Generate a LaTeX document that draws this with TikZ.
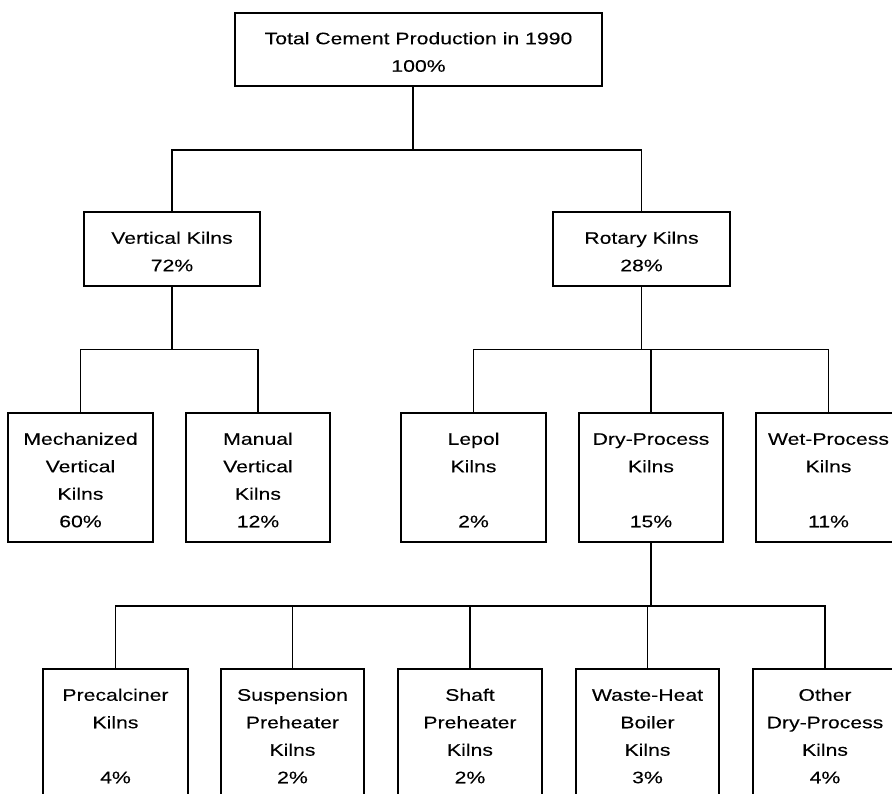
\documentclass[tikz,border=0pt]{standalone}
\usepackage{fontspec}
\setmainfont{Liberation Sans}[FakeStretch=1.27,FakeBold=0.15]
% stacked, centred lines, set a little below the box centre
\newcommand{\boxtext}[1]{\raisebox{-3pt}[\height][\depth]{\begin{tabular}{@{}c@{}}#1\end{tabular}}}
\begin{document}
\begin{tikzpicture}[x=1pt,y=-1pt,
  box/.style={draw,line width=1.1pt,rectangle,inner sep=0pt,
    font=\fontsize{16.7}{27.5}\selectfont},
  big/.style={box,minimum width=367pt,minimum height=73pt},
  mid/.style={box,minimum height=74pt},
  leaf/.style={box,minimum width=145pt,minimum height=129pt},
  link/.style={line width=1.1pt}]
\useasboundingbox (0,0) rectangle (892,794);
\clip (0,0) rectangle (892,794);

% boxes
\node[big] (top) at (418.5,49.5) {\boxtext{Total Cement Production in 1990\\100\%}};
\node[mid,minimum width=176pt] (vk) at (172,249) {\boxtext{Vertical Kilns\\72\%}};
\node[mid,minimum width=177pt] (rk) at (641.5,249) {\boxtext{Rotary Kilns\\28\%}};

\node[leaf] (mech)  at (80.5,477.5) {\boxtext{Mechanized\\Vertical\\Kilns\\60\%}};
\node[leaf,minimum width=144pt] (man) at (258,477.5) {\boxtext{Manual\\Vertical\\Kilns\\12\%}};
\node[leaf] (lepol) at (473.5,477.5) {\boxtext{Lepol\\Kilns\\\\2\%}};
\node[leaf,minimum width=144pt] (dry) at (651,477.5) {\boxtext{Dry-Process\\Kilns\\\\15\%}};
\node[leaf] (wet)   at (828.5,477.5) {\boxtext{Wet-Process\\Kilns\\\\11\%}};

\node[leaf] (pre) at (115.5,733.5) {\boxtext{Precalciner\\Kilns\\\\4\%}};
\node[leaf,minimum width=143pt] (sus) at (292.5,733.5) {\boxtext{Suspension\\Preheater\\Kilns\\2\%}};
\node[leaf,minimum width=144pt] (sha) at (470,733.5) {\boxtext{Shaft\\Preheater\\Kilns\\2\%}};
\node[leaf,minimum width=143pt] (wh)  at (647.5,733.5) {\boxtext{Waste-Heat\\Boiler\\Kilns\\3\%}};
\node[leaf,minimum width=144pt] (oth) at (825,733.5) {\boxtext{Other\\Dry-Process\\Kilns\\4\%}};

% levels of the horizontal bars
\coordinate (y1) at (0,150);
\coordinate (y2) at (0,349.5);
\coordinate (y3) at (0,606);
\coordinate (t0) at ([xshift=-5.5pt]top.south);

% connectors
\draw[link] (t0) -- (t0 |- y1);
\draw[link] (vk.north) -- (vk.north |- y1) -- (rk.north |- y1) -- (rk.north);

\draw[link] (vk.south) -- (vk.south |- y2);
\draw[link] (mech.north) -- (mech.north |- y2) -- (man.north |- y2) -- (man.north);

\draw[link] (rk.south) -- (rk.south |- y2);
\draw[link] (lepol.north) -- (lepol.north |- y2) -- (wet.north |- y2) -- (wet.north);
\draw[link] (dry.north) -- (dry.north |- y2);

\draw[link] (dry.south) -- (dry.south |- y3);
\draw[link] (pre.north) -- (pre.north |- y3) -- (oth.north |- y3) -- (oth.north);
\draw[link] (sus.north) -- (sus.north |- y3);
\draw[link] (sha.north) -- (sha.north |- y3);
\draw[link] (wh.north) -- (wh.north |- y3);
\end{tikzpicture}
\end{document}
